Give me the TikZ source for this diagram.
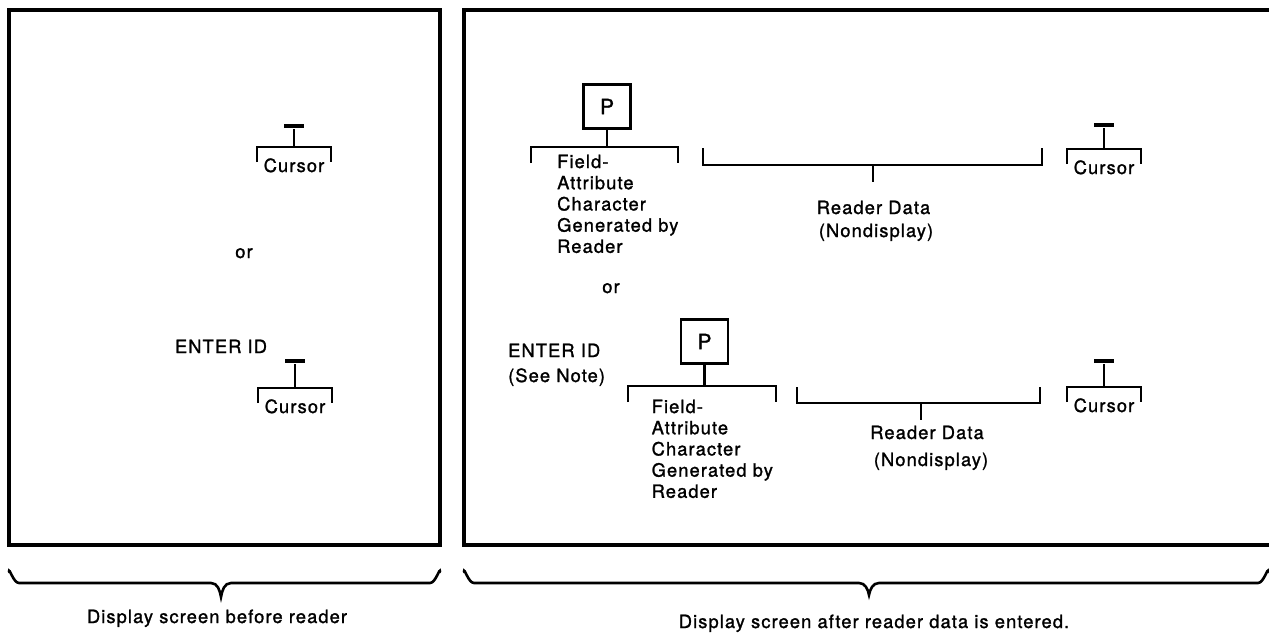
\documentclass[tikz,border=0pt]{standalone}
\usepackage{fontspec}
\setmainfont{TeX Gyre Heros}[LetterSpace=6,FakeBold=1.3]
\begin{document}
\begin{tikzpicture}[x=1pt,y=-1pt,
  lbl/.style={font=\fontsize{18.3}{21.2}\selectfont, inner sep=0pt},
  boxline/.style={line width=4pt},
  brk/.style={line width=2.2pt, line cap=butt, line join=miter},
  bar/.style={line width=4pt},
  bracecurve/.style={line width=2.6pt, line cap=round},
  pbox/.style={draw, line width=2.4pt, minimum width=47pt, minimum height=44pt, inner sep=0pt, font=\fontsize{21}{22}\selectfont}]
\useasboundingbox (0,0) rectangle (1269,633);
\clip (0,0) rectangle (1269,633);
\fill[white] (0,0) rectangle (1269,633);

\newcommand\cursorsym[4]{%
  \coordinate (#1) at (#2,#4);
  \coordinate (#1-bar) at (#2,#3);
  \draw[bar] (#2-10,#3) -- (#2+10,#3);
  \draw[brk] ([yshift=-3pt]#1-bar) -- (#1);
  \draw[brk] (#2-37,#4+15) |- (#2+37,#4) -- (#2+37,#4+15);
  \node[lbl, anchor=base] (#1-t) at (#2,#4+25) {Cursor};
}

% screens
\draw[boxline] (9,10) rectangle (440,545);
\draw[boxline] (1300,10) -- (464,10) -- (464,545) -- (1300,545);

% left screen
\cursorsym{lc1}{294}{126}{147}
\node[lbl, anchor=base] (lor) at (244,258) {or};
\node[lbl, anchor=base] (lenter) at (221,353) {ENTER ID};
\cursorsym{lc2}{295}{361}{388}

% right screen, first alternative
\node[pbox] (p1) at (607,106.5) {P};
\coordinate (b1) at (607,147);
\draw[brk] (p1.south) -- (b1);
\draw[brk] (531,163) |- (678,147) -- (678,163);
\node[lbl, anchor=north west, align=left] (fa1) at (557,154.5)
  {Field-\\Attribute\\Character\\Generated by\\Reader};
\coordinate (rd1) at (873,165);
\coordinate (rd1s) at (873,182);
\draw[brk] (703,148) |- (1042,165) -- (1042,148);
\draw[brk] (rd1) -- (rd1s);
\node[lbl, anchor=base] (rdt1) at (873.5,214) {Reader Data};
\node[lbl, anchor=base] (rdn1) at (876,237) {(Nondisplay)};
\cursorsym{rc1}{1104}{125}{149}

\node[lbl, anchor=base] (ror) at (611,293) {or};

% right screen, second alternative
\node[lbl, anchor=base west] (renter) at (508,357) {ENTER ID};
\node[lbl, anchor=base west] (rnote) at (508,382) {(See Note)};
\node[pbox] (p2) at (704.5,341.5) {P};
\coordinate (b2) at (704.5,386);
\draw[brk] (p2.south) -- (b2);
\draw[brk] (628,402) |- (776,386) -- (776,402);
\node[lbl, anchor=north west, align=left] (fa2) at (651.5,399.5)
  {Field-\\Attribute\\Character\\Generated by\\Reader};
\coordinate (rd2) at (921,403);
\coordinate (rd2s) at (921,420);
\draw[brk] (797,387) |- (1040,403) -- (1040,387);
\draw[brk] (rd2) -- (rd2s);
\node[lbl, anchor=base] (rdt2) at (927,439) {Reader Data};
\node[lbl, anchor=base] (rdn2) at (931,466) {(Nondisplay)};
\cursorsym{rc2}{1104}{361}{387}

% braces
\coordinate (tipL) at (221,597);
\draw[bracecurve] (9,572) to[out=90,in=180] (19,583) -- (211,583)
  to[out=0,in=100] (tipL) to[out=80,in=180] (231,583) -- (430,583)
  to[out=0,in=90] (440,572);
\node[lbl, anchor=base] (capL) at (217,623) {Display screen before reader};

\coordinate (tipR) at (869,595);
\draw[bracecurve] (464,572) to[out=90,in=180] (474,583) -- (859,583)
  to[out=0,in=100] (tipR) to[out=80,in=180] (879,583) -- (1258,583)
  to[out=0,in=90] (1268,572);
\node[lbl, anchor=base] (capR) at (874,628) {Display screen after reader data is entered.};
\end{tikzpicture}
\end{document}
